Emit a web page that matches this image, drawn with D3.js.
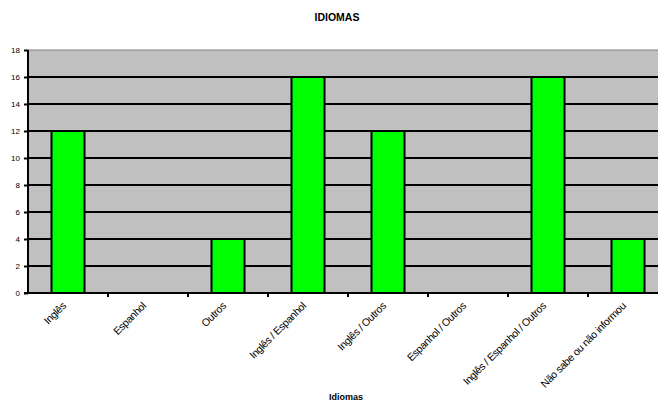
<!DOCTYPE html>
<html><head><meta charset="utf-8">
<script src="https://cdn.jsdelivr.net/npm/d3@7"></script>
<style>body{margin:0;background:#fff}svg{display:block}text{font-family:"Liberation Sans",Arial,sans-serif}</style>
</head><body><svg id="c" width="658" height="401"></svg>
<script>
const categories = ["Inglês","Espanhol","Outros","Inglês / Espanhol","Inglês / Outros","Espanhol / Outros","Inglês / Espanhol / Outros","Não sabe ou não informou"];
const values = [12,0,4,16,12,0,16,4];
const yTicks = [0,2,4,6,8,10,12,14,16,18];
const title = "IDIOMAS";
const xTitle = "Idiomas";

const svg = d3.select("#c");
const L = 28, T = 50, B = 293, bandW = 80;
const R = L + bandW * categories.length;
const x = d3.scaleBand().domain(categories).range([L, R]).paddingInner(0.5875).paddingOuter(0.29375);
const xb = d3.scaleBand().domain(categories).range([L, R]);
const y = d3.scaleLinear().domain([0, 18]).range([B, T]);

svg.append("rect").attr("x", L).attr("y", T).attr("width", R - L).attr("height", B - T).attr("fill", "#c0c0c0");
svg.append("line").attr("x1", L).attr("x2", R).attr("y1", y(18)).attr("y2", y(18)).attr("stroke", "#808080").attr("stroke-width", 1);

svg.append("g").selectAll("line").data(yTicks.filter(d => d > 0 && d < 18)).join("line")
  .attr("x1", L).attr("x2", R).attr("y1", d => y(d)).attr("y2", d => y(d))
  .attr("stroke", "#000").attr("stroke-width", 2);

svg.append("g").selectAll("rect").data(categories.map((c, i) => ({c, v: values[i]})).filter(d => d.v > 0)).join("rect")
  .attr("x", d => x(d.c)).attr("width", x.bandwidth())
  .attr("y", d => y(d.v)).attr("height", d => y(0) - y(d.v))
  .attr("fill", "#00ff00").attr("stroke", "#000").attr("stroke-width", 2);

// y axis
const yAxis = svg.append("g").attr("transform", `translate(${L},0)`)
  .call(d3.axisLeft(y).tickValues(yTicks).tickSize(4).tickPadding(4));
yAxis.select(".domain").attr("stroke", "#000").attr("stroke-width", 2).attr("d", `M0,${T}V${B}`);
yAxis.selectAll(".tick line").attr("stroke-width", 2);
yAxis.selectAll("text").attr("font-size", 8).attr("fill", "#000").style("font-family", "Liberation Sans, Arial");

// x axis
const xAxis = svg.append("g").attr("transform", `translate(0,${B})`);
xAxis.append("line").attr("x1", L - 4).attr("x2", R).attr("y1", 0).attr("y2", 0).attr("stroke", "#000").attr("stroke-width", 2);
xAxis.selectAll("line.t").data(categories.slice(1)).join("line").attr("class", "t")
  .attr("x1", d => xb(d)).attr("x2", d => xb(d)).attr("y1", 0).attr("y2", 4)
  .attr("stroke", "#000").attr("stroke-width", 2);
xAxis.selectAll("text").data(categories).join("text")
  .attr("transform", d => `translate(${xb(d) + xb.bandwidth() / 2 - 4},11) rotate(-45)`)
  .attr("text-anchor", "end").attr("font-size", 10.5).attr("letter-spacing", "-0.35px")
  .attr("dy", "0.35em").text(d => d);

svg.append("text").attr("x", 337).attr("y", 21).attr("text-anchor", "middle")
  .attr("font-size", 10.5).attr("font-weight", "bold").text(title);
svg.append("text").attr("x", 346).attr("y", 400).attr("text-anchor", "middle")
  .attr("font-size", 9).attr("font-weight", "bold").text(xTitle);
</script></body></html>
